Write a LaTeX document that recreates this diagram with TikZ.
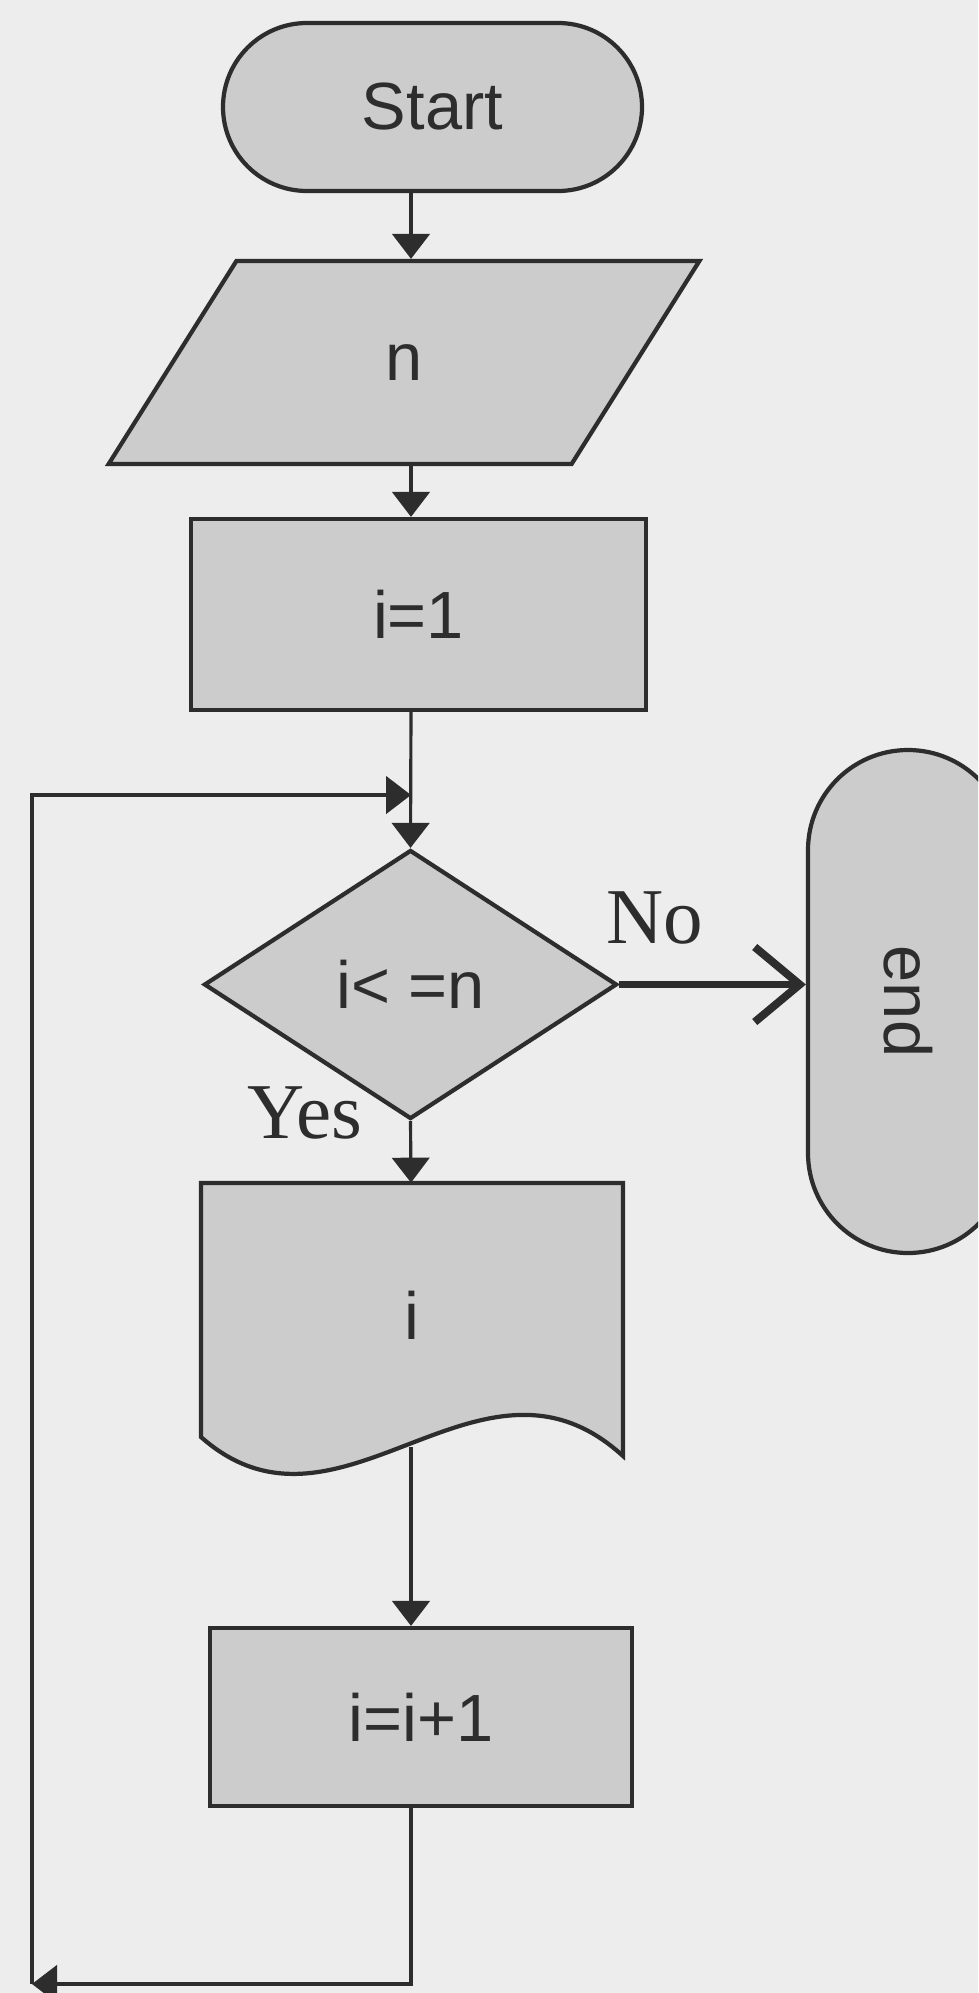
\documentclass[tikz,border=0pt]{standalone}
\usepackage{fontspec}
\setmainfont{Liberation Serif}
\newfontfamily\boxfont{Liberation Sans}
\usepackage{tikz}
\usetikzlibrary{positioning,arrows.meta,shapes.geometric,shapes.misc,calc}
\usepackage{xcolor}
\definecolor{paper}{RGB}{237,237,237}
\definecolor{stipple}{RGB}{204,204,204}
\definecolor{ink}{RGB}{45,45,45}

\begin{document}
\begin{tikzpicture}[
  every node/.style={text=ink},
  shapebox/.style={draw=ink,fill=stipple,line width=2.4pt,inner sep=0pt,
    font=\boxfont\fontsize{38}{44}\selectfont},
  flow/.style={draw=ink,line width=1.8pt,-{Triangle[width=0.75cm,length=0.5cm]}},
  lbl/.style={font=\fontsize{45}{52}\selectfont}]
\fill[paper] (0,0) rectangle (19.56,-39.86);
\clip (0,0) rectangle (19.56,-39.86);
\coordinate (axis) at (8.22,0);
\coordinate (corner) at (0.64,-39.68);
\coordinate (join) at (8.22,-15.9);

% boxes
\node[shapebox,rounded rectangle,minimum width=8.38cm,minimum height=3.36cm] (start) at (8.65,-2.14) {Start};
\node[shapebox,trapezium,trapezium left angle=68.5,trapezium right angle=111.5,trapezium stretches,
  minimum width=11.84cm,minimum height=4.06cm] (inp) at (8.08,-7.25) {n};
\node[shapebox,rectangle,minimum width=9.1cm,minimum height=3.82cm] (init) at (8.37,-12.29) {i=1};
\node[shapebox,diamond,minimum width=8.26cm,minimum height=5.38cm] (diam) at (8.21,-19.69) {i< =n};
\node[shapebox,rounded rectangle,rotate=-90,minimum width=10.06cm,minimum height=4cm] (fin) at (18.16,-20.03) {end};
\draw[draw=ink,fill=stipple,line width=2.4pt] (4.02,-23.66) -- (12.46,-23.66) -- (12.46,-29.12)
  .. controls (9.6,-26.5) and (6.8,-31.2) .. (4.02,-28.74) -- cycle;
\node[inner sep=0pt,minimum width=8.44cm,minimum height=5.28cm,font=\boxfont\fontsize{38}{44}\selectfont] (out) at (8.24,-26.3) {i};
\node[shapebox,rectangle,minimum width=8.44cm,minimum height=3.56cm] (inc) at (8.42,-34.34) {i=i+1};

% labels
\node[lbl] (nolbl) at (13.1,-18.36) {No};
\node[lbl] (yeslbl) at (6.1,-22.26) {Yes};

% connectors
\draw[flow] (start.south -| axis) -- (inp.north -| axis);
\draw[flow] (inp.south -| axis) -- (init.north -| axis);
\draw[flow] (init.south -| axis) -- (diam.north);
\draw[flow] (diam.south) -- (out.north -| axis);
\draw[flow] (out.south -| axis) -- (inc.north -| axis);
\draw[flow] (inc.south -| axis) |- (corner);
\draw[flow] (corner) |- (join);
\draw[ink,line width=4.5pt,-{Straight Barb[length=0.9cm,width=1.5cm]}] (diam.east) -- (diam.east -| fin.south);
\end{tikzpicture}
\end{document}
